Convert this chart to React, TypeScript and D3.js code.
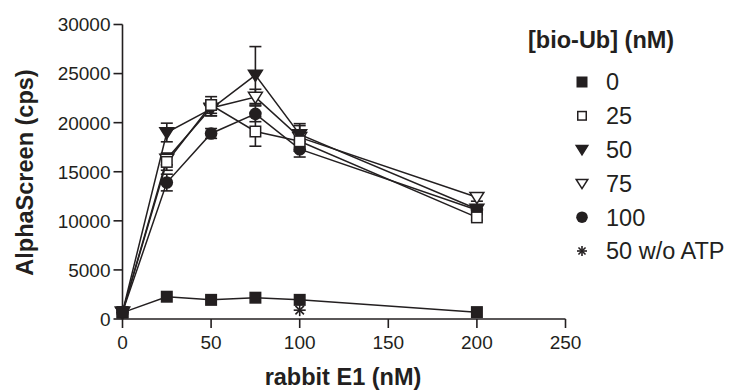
import React from "react";
import * as d3 from "d3";

const xValues = [0, 25, 50, 75, 100, 200];
const s0 = [650, 2270, 1950, 2170, 1950, 700];
const s25 = [700, 16000, 21800, 19100, 18100, 10350];
const s50 = [700, 19000, 21400, 24850, 18800, 11200];
const s75 = [700, 16300, 21500, 22600, 18500, 12400];
const s100 = [700, 13900, 18900, 20900, 17300, 11100];
const e0 = [0, 0, 0, 0, 0, 0];
const e25 = [0, 850, 850, 1500, 1000, 300];
const e50 = [0, 950, 700, 2900, 900, 400];
const e75 = [0, 600, 800, 800, 1400, 400];
const e100 = [0, 850, 500, 800, 800, 400];
const noAtpX = [100];
const noAtpY = [900];
const xTicks = [0, 50, 100, 150, 200, 250];
const yTicks = [0, 5000, 10000, 15000, 20000, 25000, 30000];
const legendLabels = ["0", "25", "50", "75", "100", "50 w/o ATP"];

const INK = "#231f20";
const FONT = "'Liberation Sans', Arial, Helvetica, sans-serif";

type Shape = "fsq" | "osq" | "ftri" | "otri" | "circ" | "star";

function Marker({ shape, x, y, s = 12 }: { shape: Shape; x: number; y: number; s?: number }) {
  const h = s / 2;
  if (shape === "fsq" || shape === "osq") {
    const fill = shape === "fsq" ? INK : "#fff";
    return <rect x={x - h + 0.75} y={y - h + 0.75} width={s - 1.5} height={s - 1.5} fill={fill} stroke={INK} strokeWidth={1.5} />;
  }
  if (shape === "ftri" || shape === "otri") {
    const fill = shape === "ftri" ? INK : "#fff";
    const w = s * 0.58;
    const p = `M${x - w},${y - h * 0.8} L${x + w},${y - h * 0.8} L${x},${y + h * 1.05} Z`;
    return <path d={p} fill={fill} stroke={INK} strokeWidth={1.5} strokeLinejoin="miter" />;
  }
  if (shape === "circ") {
    return <circle cx={x} cy={y} r={h + 0.3} fill={INK} />;
  }
  const r = h;
  const lines = [0, 45, 90, 135].map((a) => {
    const rad = (a * Math.PI) / 180;
    return (
      <line key={a} x1={x - r * Math.cos(rad)} y1={y - r * Math.sin(rad)} x2={x + r * Math.cos(rad)} y2={y + r * Math.sin(rad)} stroke={INK} strokeWidth={1.6} />
    );
  });
  return <g>{lines}</g>;
}

export default function App() {
  const W = 730;
  const H = 391;
  const x = d3.scaleLinear().domain([0, 250]).range([122.5, 565.5]);
  const y = d3.scaleLinear().domain([0, 30000]).range([319, 24.5]);

  const series = [
    { vals: s0, errs: e0, shape: "fsq" as Shape },
    { vals: s25, errs: e25, shape: "osq" as Shape },
    { vals: s50, errs: e50, shape: "ftri" as Shape },
    { vals: s75, errs: e75, shape: "otri" as Shape },
    { vals: s100, errs: e100, shape: "circ" as Shape },
  ];
  const drawOrder = [4, 3, 2, 1, 0];
  const line = d3
    .line<number>()
    .x((_, i) => x(xValues[i]))
    .y((d) => y(d));

  const legendShapes: Shape[] = ["fsq", "osq", "ftri", "otri", "circ", "star"];

  return (
    <svg width={W} height={H} style={{ position: "absolute", left: 0, top: 0, background: "#fff" }} fontFamily={FONT}>
      <rect width={W} height={H} fill="#fff" />
      <line x1={x(0)} x2={x(0)} y1={y(30000)} y2={y(0) + 0.75} stroke={INK} strokeWidth={1.6} />
      <line x1={x(0)} x2={x(250)} y1={y(0)} y2={y(0)} stroke={INK} strokeWidth={1.6} />
      {yTicks.map((t) => (
        <g key={"y" + t}>
          <line x1={x(0) - 9} x2={x(0)} y1={y(t)} y2={y(t)} stroke={INK} strokeWidth={1.6} />
          <text x={x(0) - 12} y={y(t)} dy="0.36em" textAnchor="end" fontSize={19} fill={INK}>
            {t}
          </text>
        </g>
      ))}
      {xTicks.map((t) => (
        <g key={"x" + t}>
          <line x1={x(t)} x2={x(t)} y1={y(0)} y2={y(0) + 9} stroke={INK} strokeWidth={1.6} />
          <text x={x(t)} y={349} textAnchor="middle" fontSize={19} fill={INK}>
            {t}
          </text>
        </g>
      ))}
      <text x={343} y={385} textAnchor="middle" fontSize={23.5} fontWeight="bold" fill={INK}>
        rabbit E1 (nM)
      </text>
      <text transform={`translate(33,${(68 + 277) / 2}) rotate(-90)`} textAnchor="middle" fontSize={23.5} fontWeight="bold" fill={INK}>
        AlphaScreen (cps)
      </text>

      {series.map((s, i) => (
        <path key={"l" + i} d={line(s.vals) || ""} fill="none" stroke={INK} strokeWidth={1.5} />
      ))}
      {drawOrder.map((i) => {
        const s = series[i];
        return s.vals.map((v, j) =>
          s.errs[j] > 0 ? (
            <g key={`e${i}-${j}`} stroke={INK} strokeWidth={1.6}>
              <line x1={x(xValues[j])} x2={x(xValues[j])} y1={y(v + s.errs[j])} y2={y(v - s.errs[j])} />
              <line x1={x(xValues[j]) - 6} x2={x(xValues[j]) + 6} y1={y(v + s.errs[j])} y2={y(v + s.errs[j])} />
              <line x1={x(xValues[j]) - 6} x2={x(xValues[j]) + 6} y1={y(v - s.errs[j])} y2={y(v - s.errs[j])} />
            </g>
          ) : null
        );
      })}
      {drawOrder.map((i) => {
        const s = series[i];
        return s.vals.map((v, j) => <Marker key={`m${i}-${j}`} shape={s.shape} x={x(xValues[j])} y={y(v)} />);
      })}
      {noAtpX.map((xv, i) => (
        <Marker key={"na" + i} shape="star" x={x(xv)} y={y(noAtpY[i])} s={12} />
      ))}

      <text x={528} y={48} fontSize={23.5} fontWeight="bold" fill={INK}>
        [bio-Ub] (nM)
      </text>
      {legendLabels.map((lab, i) => {
        const cy = 82 + i * 33.8;
        return (
          <g key={"lg" + i}>
            <Marker shape={legendShapes[i]} x={582} y={cy} s={i === 0 || i === 4 ? 11 : 10} />
            <text x={606} y={cy} dy="0.36em" fontSize={23.5} fill={INK}>
              {lab}
            </text>
          </g>
        );
      })}
    </svg>
  );
}
